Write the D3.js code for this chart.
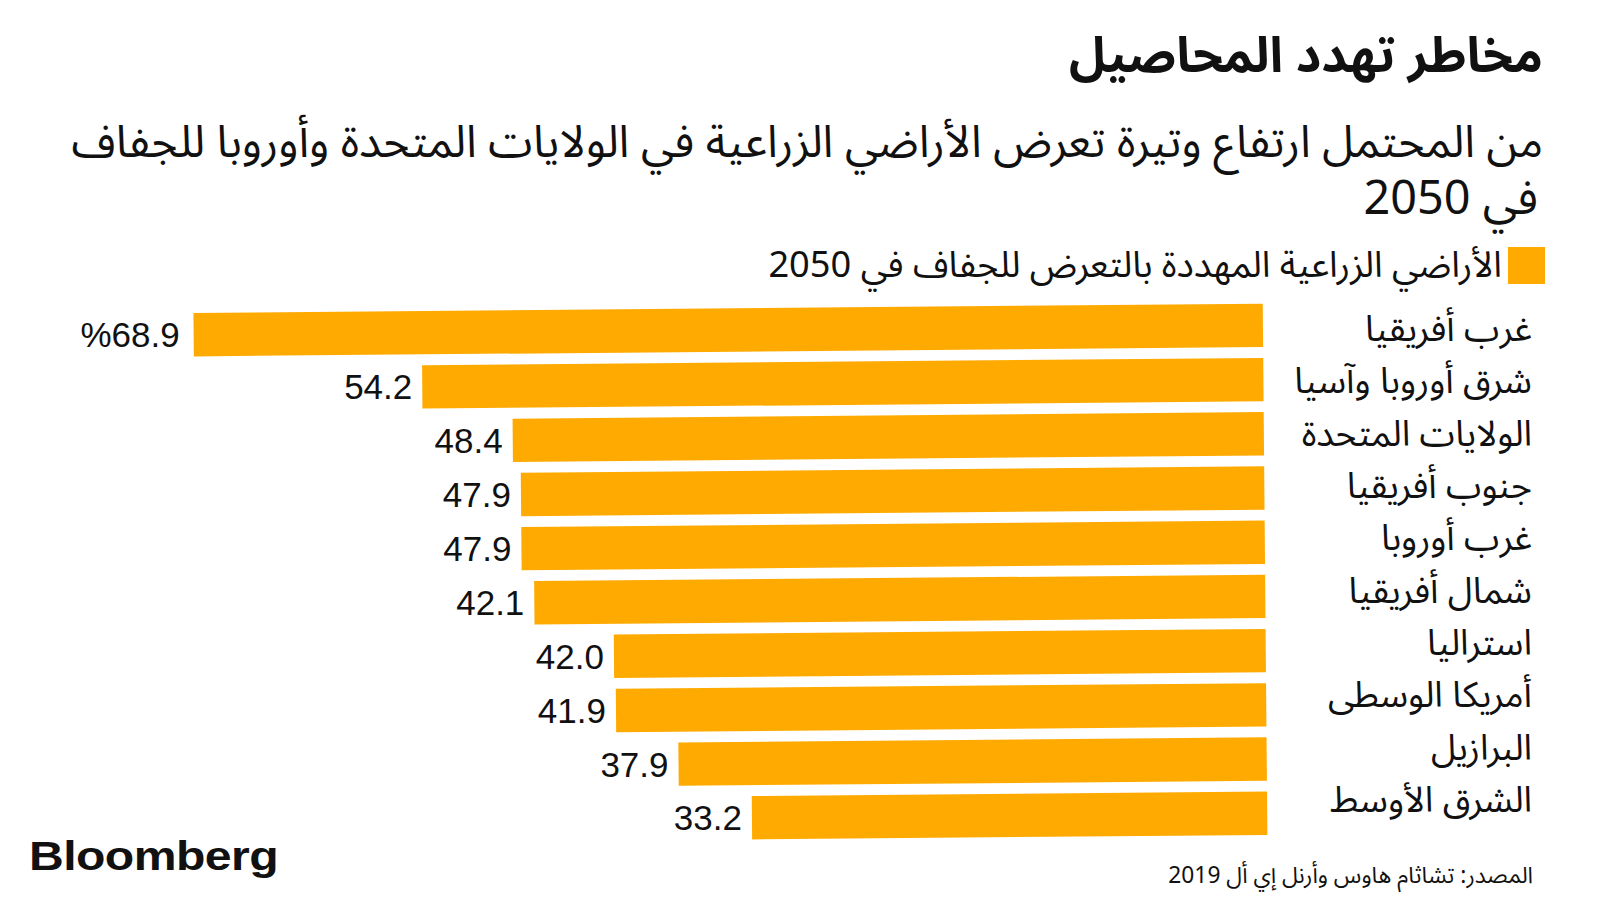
<!DOCTYPE html>
<html>
<head>
<meta charset="utf-8">
<script src="https://cdn.jsdelivr.net/npm/d3@7"></script>
<style>
  html, body { margin: 0; padding: 0; background: #ffffff; }
  svg { display: block; }
  .ar { font-family: "Noto Sans Arabic", "Noto Sans", "DejaVu Sans", sans-serif; fill: #111; }
  .num { font-family: "Liberation Sans", Arial, Helvetica, sans-serif; fill: #111; }
</style>
</head>
<body>
<svg id="chart" width="1600" height="900"></svg>
<script>
// ---------------- data ----------------
const title = "مخاطر تهدد المحاصيل";
const subtitleLines = [
  "من المحتمل ارتفاع وتيرة تعرض الأراضي الزراعية في الولايات المتحدة وأوروبا للجفاف",
  "في 2050"
];
const legendLabel = "الأراضي الزراعية المهددة بالتعرض للجفاف في 2050";
const sourceText = "المصدر: تشاثام هاوس وأرنل إي أل 2019";
const logoText = "Bloomberg";

const categories = [
  "غرب أفريقيا",
  "شرق أوروبا وآسيا",
  "الولايات المتحدة",
  "جنوب أفريقيا",
  "غرب أوروبا",
  "شمال أفريقيا",
  "استراليا",
  "أمريكا الوسطى",
  "البرازيل",
  "الشرق الأوسط"
];
// bar lengths
const values = [68.9, 54.2, 48.4, 47.9, 47.9, 47.1, 42.0, 41.9, 37.9, 33.2];
// value labels as printed in the picture
const valueLabels = ["%68.9", "54.2", "48.4", "47.9", "47.9", "42.1", "42.0", "41.9", "37.9", "33.2"];

// ---------------- layout ----------------
const W = 1600, H = 900;
const barColor = "#FFAA00";
const tilt = -0.5, cx = 800, cy = 450;   // the bars in the reference are slightly tilted

const svg = d3.select("#chart");
svg.append("rect").attr("width", W).attr("height", H).attr("fill", "#fff");

const x = d3.scaleLinear().domain([0, 70]).range([1264, 1264 - 70 * 15.52]);
const y = d3.scaleBand().domain(categories).range([302.3, 844.4]).paddingInner(0.2).paddingOuter(0.1);
const yLabel = d3.scalePoint().domain(categories).range([341, 812]);

function rot(px, py) {
  const a = tilt * Math.PI / 180;
  return [cx + (px - cx) * Math.cos(a) - (py - cy) * Math.sin(a),
          cy + (px - cx) * Math.sin(a) + (py - cy) * Math.cos(a)];
}

function fitWidth(sel, target, start) {
  sel.style("font-size", start + "px");
  const w = sel.node().getComputedTextLength();
  const s = start * target / w;
  sel.style("font-size", s + "px");
  return s;
}

// ---------------- title & subtitle ----------------
const t = svg.append("text").attr("class", "ar")
  .attr("direction", "rtl").attr("text-anchor", "start")
  .attr("x", 1543).attr("y", 72)
  .style("font-weight", 700)
  .text(title);
fitWidth(t, 474, 50);

const sub1 = svg.append("text").attr("class", "ar")
  .attr("direction", "rtl").attr("text-anchor", "start")
  .attr("x", 1543).attr("y", 157)
  .text(subtitleLines[0]);
const subSize = fitWidth(sub1, 1472, 40);

svg.append("text").attr("class", "ar")
  .attr("direction", "rtl").attr("text-anchor", "start")
  .attr("x", 1538).attr("y", 214)
  .style("font-size", (subSize * 1.04) + "px")
  .text(subtitleLines[1]);

// ---------------- legend ----------------
svg.append("rect").attr("x", 1508).attr("y", 247).attr("width", 37).attr("height", 37).attr("fill", barColor);
const lg = svg.append("text").attr("class", "ar")
  .attr("direction", "rtl").attr("text-anchor", "start")
  .attr("x", 1502).attr("y", 277)
  .text(legendLabel);
fitWidth(lg, 734, 32);

// ---------------- bars ----------------
const barsG = svg.append("g").attr("transform", `rotate(${tilt},${cx},${cy})`);
barsG.selectAll("rect.bar")
  .data(categories)
  .join("rect")
  .attr("class", "bar")
  .attr("x", (d, i) => x(values[i]))
  .attr("y", d => y(d))
  .attr("width", (d, i) => x(0) - x(values[i]))
  .attr("height", y.bandwidth())
  .attr("fill", barColor);

// value labels (placed at the tilted bar ends)
svg.selectAll("text.val")
  .data(categories)
  .join("text")
  .attr("class", "val num")
  .attr("text-anchor", "end")
  .attr("direction", "ltr")
  .style("font-size", "35px")
  .each(function(d, i) {
    const p = rot(x(values[i]), y(d) + y.bandwidth() / 2);
    d3.select(this).attr("x", p[0] - (i === 0 ? 14 : 10)).attr("y", p[1] + 12.5);
  })
  .text((d, i) => valueLabels[i]);

// category labels
const catLabels = svg.selectAll("text.cat")
  .data(categories)
  .join("text")
  .attr("class", "cat ar")
  .attr("direction", "rtl")
  .attr("text-anchor", "start")
  .attr("x", 1532)
  .attr("y", d => yLabel(d))
  .text(d => d);
// size categories so the longest label matches the reference width
{
  const probe = catLabels.filter(d => d === categories[1]);
  const s = fitWidth(probe, 238, 30);
  catLabels.style("font-size", s + "px");
}

// ---------------- footer ----------------
svg.append("text").attr("class", "num")
  .attr("x", 29).attr("y", 870)
  .style("font-size", "41px").style("font-weight", 700)
  .attr("textLength", 249).attr("lengthAdjust", "spacingAndGlyphs")
  .style("letter-spacing", "-0.5px")
  .text(logoText);

const src = svg.append("text").attr("class", "ar")
  .attr("direction", "rtl").attr("text-anchor", "start")
  .attr("x", 1533).attr("y", 883)
  .text(sourceText);
fitWidth(src, 365, 21);
</script>
</body>
</html>
